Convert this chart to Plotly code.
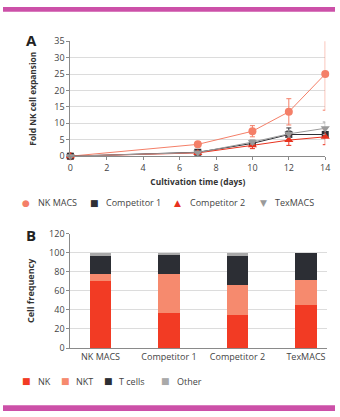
import plotly.graph_objects as go

# ---- Data: Panel A ----
days = [0, 7, 10, 12, 14]
nk_macs = [0, 3.6, 7.6, 13.5, 25.0]
nk_macs_err = [0, 0.8, 1.7, 4.0, 11.0]
comp1 = [0, 1.2, 3.9, 6.6, 6.6]
comp1_err = [0, 0.3, 0.6, 2.0, 1.0]
comp2 = [0, 1.0, 3.3, 4.9, 5.9]
comp2_err = [0, 0.3, 1.0, 1.6, 2.4]
texmacs = [0, 1.1, 4.3, 6.8, 8.5]
texmacs_err = [0, 0.3, 0.6, 1.0, 1.9]

# ---- Data: Panel B ----
groups = ["NK MACS", "Competitor 1", "Competitor 2", "TexMACS"]
nk = [70, 37, 35, 45]
nkt = [8, 41, 31, 26]
tcells = [19, 21, 31, 29]
other = [3, 1, 3, 0]

FONT = "Open Sans"
TXT = "#444444"
GRID = "#dcdcdc"
AXL = "#8a8a8a"
H = 417.0
W = 340.0

fig = go.Figure()

series = [
    ("NK MACS", nk_macs, nk_macs_err, "#f47f68", "circle", 8, "●"),
    ("Competitor 1", comp1, comp1_err, "#2e2f35", "square", 7, "■"),
    ("Competitor 2", comp2, comp2_err, "#e8321e", "triangle-up", 8, "▲"),
    ("TexMACS", texmacs, texmacs_err, "#9a9a9a", "triangle-down", 8, "▼"),
]
for name, ys, es, col, sym, sz, _g in series:
    fig.add_trace(go.Scatter(
        x=days, y=ys, name=name, mode="lines+markers",
        line=dict(color=col, width=1),
        marker=dict(color=col, symbol=sym, size=sz),
        error_y=dict(type="data", array=es, visible=True, color=col, thickness=1, width=2.5),
        xaxis="x", yaxis="y", showlegend=False, cliponaxis=False,
    ))

bar_series = [
    ("NK", nk, "#f23b24"),
    ("NKT", nkt, "#f68a6e"),
    ("T cells", tcells, "#2c2e34"),
    ("Other", other, "#a9a9a9"),
]
for name, vals, col in bar_series:
    fig.add_trace(go.Bar(
        x=groups, y=vals, name=name, marker=dict(color=col, line=dict(width=0)),
        width=0.31, xaxis="x2", yaxis="y2", showlegend=False,
    ))

annotations = [
    dict(text="<b>A</b>", xref="paper", yref="paper", x=22 / W, y=1 - 34 / H,
         xanchor="left", yanchor="middle", showarrow=False,
         font=dict(size=15, color="#222", family=FONT)),
    dict(text="<b>B</b>", xref="paper", yref="paper", x=22 / W, y=1 - 235 / H,
         xanchor="left", yanchor="middle", showarrow=False,
         font=dict(size=15, color="#222", family=FONT)),
]

# legend for panel A (marker glyph + label)
legA_marker_x = [24, 94, 179, 267]
legA_text_x = [34, 103, 189, 277]
for (name, _y, _e, col, _s, _sz, glyph), mx, tx in zip(series, legA_marker_x, legA_text_x):
    annotations.append(dict(text=glyph, xref="paper", yref="paper", x=mx / W, y=1 - 202 / H,
                            xanchor="center", yanchor="middle", showarrow=False,
                            font=dict(size=9, color=col, family="DejaVu Sans")))
    annotations.append(dict(text=name, xref="paper", yref="paper", x=tx / W, y=1 - 202 / H,
                            xanchor="left", yanchor="middle", showarrow=False,
                            font=dict(size=9, color=TXT, family=FONT)))

legB_marker_x = [24, 64, 108, 166]
legB_text_x = [34, 73, 117, 176]
for (name, _v, col), mx, tx in zip(bar_series, legB_marker_x, legB_text_x):
    annotations.append(dict(text="■", xref="paper", yref="paper", x=mx / W, y=1 - 386.5 / H,
                            xanchor="center", yanchor="middle", showarrow=False,
                            font=dict(size=9, color=col, family="DejaVu Sans")))
    annotations.append(dict(text=name, xref="paper", yref="paper", x=tx / W, y=1 - 386.5 / H,
                            xanchor="left", yanchor="middle", showarrow=False,
                            font=dict(size=9, color=TXT, family=FONT)))

fig.update_layout(
    width=340, height=417,
    margin=dict(l=0, r=0, t=0, b=0),
    paper_bgcolor="white", plot_bgcolor="white",
    font=dict(family=FONT, size=9, color=TXT),
    barmode="stack",
    showlegend=False,
    xaxis=dict(domain=[69 / W, 330 / W], range=[0, 14], tickvals=[0, 2, 4, 6, 8, 10, 12, 14],
               showgrid=False, zeroline=False, showline=True, linecolor=AXL, linewidth=1,
               ticks="outside", ticklen=3, tickcolor=AXL, anchor="y",
               tickfont=dict(size=9, color=TXT),
               title=dict(text="<b>Cultivation time (days)</b>", font=dict(size=8.4, color="#333"), standoff=6)),
    yaxis=dict(domain=[1 - 154 / H, 1 - 35.3 / H], range=[0, 35], dtick=5,
               showgrid=True, gridcolor=GRID, gridwidth=1, zeroline=False,
               showline=True, linecolor=AXL, linewidth=1,
               ticks="outside", ticklen=3, tickcolor=AXL, anchor="x",
               tickfont=dict(size=9, color=TXT),
               title=dict(text="<b>Fold NK cell expansion</b>", font=dict(size=8.4, color="#333"), standoff=16)),
    xaxis2=dict(domain=[69 / W, 332 / W], range=[-0.44, 3.31],
                showgrid=False, zeroline=False, showline=True, linecolor=AXL, linewidth=1,
                ticks="", anchor="y2", tickfont=dict(size=9, color=TXT)),
    yaxis2=dict(domain=[1 - 352 / H, 1 - 234 / H], range=[0, 120], dtick=20,
                showgrid=True, gridcolor=GRID, gridwidth=1, zeroline=False,
                showline=True, linecolor=AXL, linewidth=1,
                ticks="outside", ticklen=3, tickcolor=AXL, anchor="x2",
                tickfont=dict(size=9, color=TXT),
                title=dict(text="<b>Cell frequency</b>", font=dict(size=9, color="#333"), standoff=12)),
    shapes=[
        dict(type="rect", xref="paper", yref="paper", x0=0, x1=1, y0=1 - 5 / H, y1=1,
             fillcolor="#cc50a8", line=dict(width=0), layer="above"),
        dict(type="rect", xref="paper", yref="paper", x0=0, x1=1, y0=0, y1=6 / H,
             fillcolor="#cc50a8", line=dict(width=0), layer="above"),
    ],
    annotations=annotations,
)

fig.write_html("out.html")
